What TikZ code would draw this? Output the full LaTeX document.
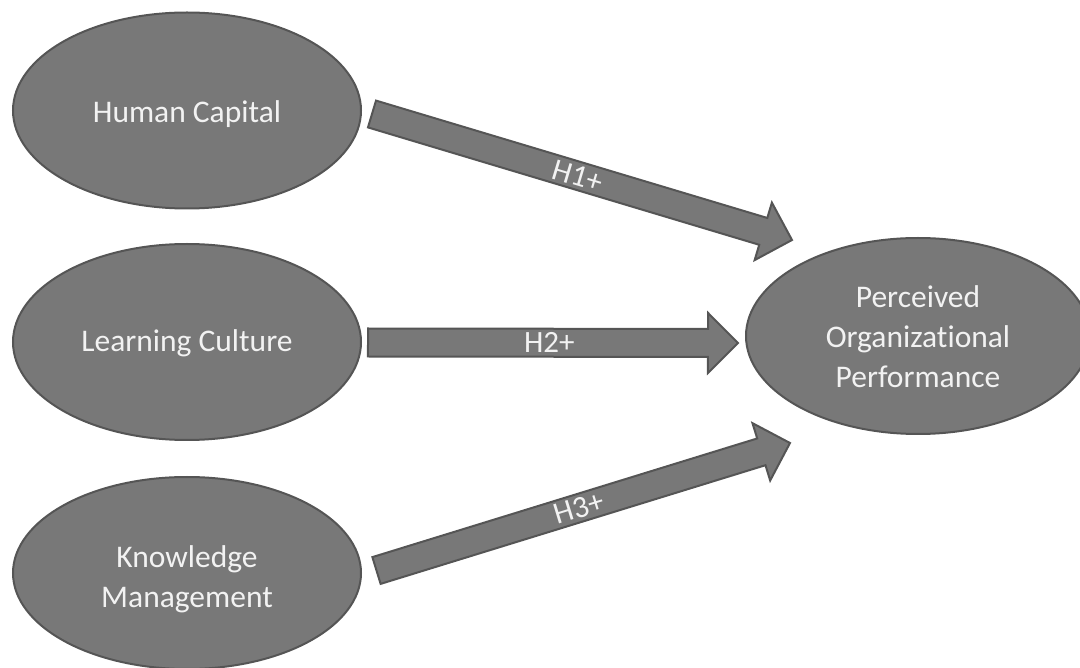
\documentclass[tikz,border=0pt]{standalone}
\usepackage{fontspec}
\setmainfont{Carlito}[Ligatures=NoCommon]
\usetikzlibrary{shapes.geometric,calc}
\definecolor{shapefill}{RGB}{120,120,120}
\definecolor{shapeedge}{RGB}{85,85,85}
\definecolor{shapetext}{RGB}{242,242,242}
\tikzset{
  oval/.style={ellipse, draw=shapeedge, line width=2pt, fill=shapefill,
    minimum width=348pt, minimum height=196pt, inner sep=0pt, align=center,
    text=shapetext, font=\fontsize{31.5}{40}\selectfont},
  barrow/.style={draw=shapeedge, line width=2pt, fill=shapefill, line join=miter},
  lbl/.style={text=shapetext, font=\fontsize{31}{36}\selectfont, inner sep=0pt}
}
\newcommand\ovaltext[2]{\raisebox{#1}[\height][\depth]{\begin{tabular}{@{}c@{}}#2\end{tabular}}}
\newcommand\blockarrow[4]{%
  \coordinate (#4b) at ($(#2)!30pt!(#1)$);
  \draw[barrow] ($(#1)!14pt!90:(#2)$) -- ($(#4b)!14pt!-90:(#1)$) -- ($(#4b)!30pt!-90:(#1)$)
    -- (#2) -- ($(#4b)!30pt!90:(#1)$) -- ($(#4b)!14pt!90:(#1)$) -- ($(#1)!14pt!-90:(#2)$) -- cycle;
  \path (#1) -- (#2) node[pos=0.49, sloped, lbl] (#4l) {#3};
}
\begin{document}
\begin{tikzpicture}[x=1pt,y=-1pt]
\useasboundingbox (0,0) rectangle (1080,668);
\clip (0,0) rectangle (1080,668);
\node[oval] (hc) at (187,110.5) {\ovaltext{-4pt}{Human Capital}};
\node[oval] (lc) at (187,342) {\ovaltext{-2pt}{Learning Culture}};
\node[oval, minimum height=192pt] (km) at (187,573) {\ovaltext{-6pt}{Knowledge\\Management}};
\node[oval, minimum width=344pt] (pop) at (918,336) {\ovaltext{-4pt}{Perceived\\Organizational\\Performance}};
\coordinate (t1) at (372,114);
\coordinate (p1) at (792,240);
\coordinate (t2) at (368,342.5);
\coordinate (p2) at (738,343);
\coordinate (t3) at (376.5,570.5);
\coordinate (p3) at (790,443);
\blockarrow{t1}{p1}{H1+}{a1}
\blockarrow{t2}{p2}{H2+}{a2}
\blockarrow{t3}{p3}{H3+}{a3}
\end{tikzpicture}
\end{document}
